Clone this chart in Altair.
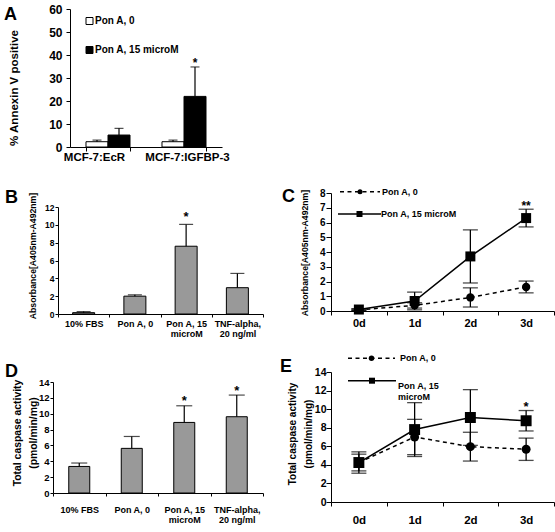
import altair as alt
import pandas as pd

FONT = "Liberation Sans"
BAR_GRAY = "#999999"

# ---------------- data ----------------
a_categories = ["MCF-7:EcR", "MCF-7:IGFBP-3"]
a_series = ["Pon A, 0", "Pon A, 15 microM"]
a_mean_pon0 = [2.3, 2.3]
a_err_pon0 = [0.7, 0.7]
a_mean_pon15 = [5.2, 22.0]
a_err_pon15 = [2.9, 12.8]
a_star_pon15 = ["", "*"]
a_ytitle = "% Annexin V positive"

bd_categories = ["10% FBS", "Pon A, 0", "Pon A, 15 microM", "TNF-alpha, 20 ng/ml"]
bd_label_lines = {"Pon A, 15 microM": ["Pon A, 15", "microM"],
                  "TNF-alpha, 20 ng/ml": ["TNF-alpha,", "20 ng/ml"]}
b_mean = [0.15, 2.0, 7.6, 2.95]
b_err = [0.12, 0.15, 2.45, 1.6]
b_star = ["", "", "*", ""]
bc_ytitle = "Absorbance[A405nm-A492nm]"

days = ["0d", "1d", "2d", "3d"]
line_series = ["Pon A, 0", "Pon A, 15 microM"]
c_mean_pon0 = [0.08, 0.38, 0.92, 1.63]
c_err_pon0 = [0.04, 0.18, 0.65, 0.4]
c_mean_pon15 = [0.1, 0.68, 3.7, 6.3]
c_err_pon15 = [0.06, 0.6, 1.8, 0.6]
c_star_pon15 = ["", "", "", "**"]

d_mean = [3.35, 5.63, 8.9, 9.62]
d_err = [0.43, 1.5, 2.1, 2.73]
d_star = ["", "", "*", "*"]
de_ytitle = ["Total caspase activity", "(pmol/min/mg)"]

e_mean_pon0 = [4.25, 7.0, 5.96, 5.68]
e_err_pon0 = [0.9, 1.9, 1.55, 1.2]
e_mean_pon15 = [4.25, 7.8, 9.1, 8.75]
e_err_pon15 = [1.15, 2.9, 3.0, 1.1]
e_star_pon15 = ["", "", "", "*"]

panel_letters = ["A", "B", "C", "D", "E"]


# ---------------- helpers ----------------
def txt(text, x, y, size, angle=None, align="left", baseline="alphabetic",
        line_height=None, weight="bold"):
    lines = text if isinstance(text, list) else [text]
    df = pd.DataFrame({"t": ["\n".join(lines)]})
    kw = dict(font=FONT, fontSize=size, fontWeight=weight, color="black",
              align=align, baseline=baseline)
    if len(lines) > 1:
        kw["lineBreak"] = "\n"
        kw["lineHeight"] = line_height
    if angle is not None:
        kw["angle"] = angle
    return alt.Chart(df).mark_text(**kw).encode(
        x=alt.value(x), y=alt.value(y), text="t:N")


def legend_entry(label, x1, x2, y, dash, shape, msize, tx, size, line_height=None):
    lines = label.split("\n")
    d = pd.DataFrame({"t": [label]})
    rk = dict(color="black", strokeWidth=1.5)
    if dash:
        rk["strokeDash"] = dash
    ln = alt.Chart(d).mark_rule(**rk).encode(
        x=alt.value(x1), x2=alt.value(x2), y=alt.value(y))
    pt = alt.Chart(d).mark_point(shape=shape, filled=True, color="black",
                                 size=msize, opacity=1).encode(
        x=alt.value((x1 + x2) / 2), y=alt.value(y))
    kw = dict(font=FONT, fontSize=size, fontWeight="bold", color="black",
              align="left", baseline="middle")
    ty = y
    if len(lines) > 1:
        kw["lineBreak"] = "\n"
        kw["lineHeight"] = line_height
        ty = y + line_height * (len(lines) - 1) / 2
    tt = alt.Chart(d).mark_text(**kw).encode(
        x=alt.value(tx), y=alt.value(ty), text="t:N")
    return [ln, pt, tt]


def multiline_expr(mapping):
    expr = "datum.label"
    for k, v in mapping.items():
        arr = "[" + ", ".join("'" + s + "'" for s in v) + "]"
        expr = f"datum.label == '{k}' ? {arr} : ({expr})"
    return expr


def y_axis(values, tick, pad, size, offset=0):
    return alt.Axis(values=values, tickCount=len(values), tickSize=tick, labelPadding=pad,
                    labelFontSize=size, offset=offset, labelOverlap=False,
                    labelBound=False, labelFlush=False)


def yq(field):
    return alt.Y(field, title=None)


# ---------------- panel A ----------------
dfA = pd.DataFrame({
    "cat": a_categories * 2,
    "series": [a_series[0]] * 2 + [a_series[1]] * 2,
    "mean": a_mean_pon0 + a_mean_pon15,
    "err": a_err_pon0 + a_err_pon15,
    "star": [""] * 2 + a_star_pon15,
})
dfA["upper"] = dfA["mean"] + dfA["err"]

xA = alt.X("cat:N", sort=a_categories, title=None,
           scale=alt.Scale(range=[17, 169], paddingInner=0.421, paddingOuter=0.2105),
           axis=alt.Axis(labelAngle=0, tickBand="extent", tickSize=4, labelPadding=0,
                         labelFontSize=11.5, labelOverlap=False,
                         labelOffset={"condition": {"test": f"datum.value == '{a_categories[0]}'",
                                                    "value": -14}, "value": 3}))
xoA = alt.XOffset("series:N", sort=a_series, scale=alt.Scale(paddingInner=0, paddingOuter=0))
yA = alt.Y("mean:Q", title=None, scale=alt.Scale(domain=[0, 60], nice=False),
           axis=y_axis(list(range(0, 61, 10)), 4, 4, 12, offset=-17))
baseA = alt.Chart(dfA)
barsA = baseA.mark_bar(stroke="black", strokeWidth=1).encode(
    x=xA, xOffset=xoA, y=yA,
    fill=alt.Fill("series:N", sort=a_series,
                  scale=alt.Scale(domain=a_series, range=["white", "black"]), legend=None))
ruleA = baseA.mark_rule(color="black", strokeWidth=1.2).encode(
    x=xA, xOffset=xoA, y=yq("mean:Q"), y2="upper:Q")
capA = baseA.mark_tick(color="black", size=9, thickness=1.2).encode(
    x=xA, xOffset=xoA, y=yq("upper:Q"))
starA = baseA.mark_text(font=FONT, fontSize=12, fontWeight="bold", color="black",
                        baseline="alphabetic", dy=0).encode(
    x=xA, xOffset=xoA, y=yq("upper:Q"), text="star:N")
anchor = alt.Chart(pd.DataFrame({"t": [0]})).mark_rule(strokeWidth=0, opacity=0).encode(
    x=alt.value(-53), y=alt.value(-9), y2=alt.value(-8))
legA = []
for i, s in enumerate(a_series):
    d = pd.DataFrame({"t": [s]})
    legA.append(alt.Chart(d).mark_square(size=49, fill=["white", "black"][i], stroke="black",
                                         strokeWidth=1, opacity=1).encode(
        x=alt.value(36.5), y=alt.value(12 + 29 * i)))
    legA.append(alt.Chart(d).mark_text(font=FONT, fontSize=10, fontWeight="bold", color="black",
                                       align="left", baseline="middle").encode(
        x=alt.value(42), y=alt.value(12 + 29 * i), text="t:N"))
panelA = alt.layer(
    barsA, ruleA, capA, starA, *legA,
    txt(panel_letters[0], -49, 11, 18),
    txt(a_ytitle, -38, 79, 11.5, angle=270, align="center", baseline="middle"),
    anchor,
).properties(width=210, height=138)


# ---------------- bar panels B, D ----------------
def bar_panel(means, errs, stars, *, x_range, y_range, y_max, y_step,
              y_off, x_off, ylab_size, ylab_pad, ytick, xlab_size, xlab_pad, xtick,
              x_line_h, bar_size, cap, star_size, star_dy):
    df = pd.DataFrame({"cat": bd_categories, "mean": means, "err": errs, "star": stars})
    df["upper"] = df["mean"] + df["err"]
    x = alt.X("cat:N", sort=bd_categories, title=None,
              scale=alt.Scale(range=x_range, paddingInner=0, paddingOuter=0),
              axis=alt.Axis(labelAngle=0, tickBand="extent", tickSize=xtick,
                            labelPadding=xlab_pad, labelFontSize=xlab_size,
                            labelExpr=multiline_expr(bd_label_lines), labelOverlap=False,
                            labelLineHeight=x_line_h, offset=x_off))
    y = alt.Y("mean:Q", title=None,
              scale=alt.Scale(domain=[0, y_max], range=y_range, nice=False),
              axis=y_axis(list(range(0, y_max + 1, y_step)), ytick, ylab_pad, ylab_size, y_off))
    base = alt.Chart(df)
    bars = base.mark_bar(size=bar_size, fill=BAR_GRAY, stroke="black", strokeWidth=1).encode(x=x, y=y)
    rule = base.mark_rule(color="black", strokeWidth=1.2).encode(
        x=x, y=yq("mean:Q"), y2="upper:Q")
    capm = base.mark_tick(color="black", size=cap, thickness=1.2).encode(
        x=x, y=yq("upper:Q"))
    star = base.mark_text(font=FONT, fontSize=star_size, fontWeight="bold", color="black",
                          baseline="alphabetic", dy=star_dy).encode(
        x=x, y=yq("upper:Q"), text="star:N")
    return [bars, rule, capm, star]


panelB = alt.layer(
    *bar_panel(b_mean, b_err, b_star, x_range=[5, 210],
               y_range=[121, 14], y_max=12, y_step=2, y_off=-5, x_off=-12,
               ylab_size=8.5, ylab_pad=1, ytick=3, xlab_size=9, xlab_pad=2, xtick=3,
               x_line_h=10, bar_size=22, cap=14, star_size=13, star_dy=-3.5),
    txt(panel_letters[1], -48, 10, 18),
    txt(bc_ytitle, -19.7, 63, 8.7, angle=270, align="center", baseline="middle"),
).properties(width=210, height=133)

panelD = alt.layer(
    *bar_panel(d_mean, d_err, d_star, x_range=[0, 210],
               y_range=[121, 10], y_max=14, y_step=2, y_off=0, x_off=-9,
               ylab_size=9.5, ylab_pad=1, ytick=3, xlab_size=9, xlab_pad=9, xtick=3,
               x_line_h=10.5, bar_size=21, cap=16, star_size=13, star_dy=-0.5),
    txt(panel_letters[3], -48, 4.7, 18),
    txt(de_ytitle, -35, 61, 10.4, angle=270, align="center", baseline="middle",
        line_height=16.2),
).properties(width=210, height=130)


# ---------------- line panels C, E ----------------
def line_panel(mean0, err0, mean15, err15, stars, *, y_max, y_step, y_range,
               x_off, ylab_size, ytick, ylab_pad, xlab_size, xtick, xlab_pad,
               m0size, m15size, cap, star_size, star_dy):
    rows = []
    for s, ms, es in [(line_series[0], mean0, err0), (line_series[1], mean15, err15)]:
        for i, d in enumerate(days):
            rows.append(dict(series=s, day=d, mean=ms[i], lo=ms[i] - es[i], hi=ms[i] + es[i],
                             star=stars[i] if s == line_series[1] else ""))
    df = pd.DataFrame(rows)
    x = alt.X("day:N", sort=days, title=None,
              scale=alt.Scale(paddingInner=0, paddingOuter=0),
              axis=alt.Axis(labelAngle=0, tickBand="extent", tickSize=xtick,
                            labelPadding=xlab_pad, labelFontSize=xlab_size, offset=x_off,
                            labelOverlap=False))
    skw = dict(domain=[0, y_max], nice=False)
    if y_range is not None:
        skw["range"] = y_range
    y = alt.Y("mean:Q", title=None, scale=alt.Scale(**skw),
              axis=y_axis(list(range(0, y_max + 1, y_step)), ytick, ylab_pad, ylab_size))
    base = alt.Chart(df)
    s0 = base.transform_filter(alt.datum.series == line_series[0])
    s15 = base.transform_filter(alt.datum.series == line_series[1])
    l0 = s0.mark_line(color="black", strokeWidth=1.5, strokeDash=[4, 3.5]).encode(x=x, y=y)
    l15 = s15.mark_line(color="black", strokeWidth=1.5).encode(x=x, y=yq("mean:Q"))
    er = base.mark_rule(color="black", strokeWidth=1.3).encode(
        x=x, y=yq("lo:Q"), y2="hi:Q")
    clo = base.mark_tick(color="black", size=cap, thickness=1.3).encode(
        x=x, y=yq("lo:Q"))
    chi = base.mark_tick(color="black", size=cap, thickness=1.3).encode(
        x=x, y=yq("hi:Q"))
    p0 = s0.mark_point(shape="circle", filled=True, color="black", opacity=1, size=m0size).encode(
        x=x, y=yq("mean:Q"))
    p15 = s15.mark_point(shape="square", filled=True, color="black", opacity=1, size=m15size).encode(
        x=x, y=yq("mean:Q"))
    star = s15.mark_text(font=FONT, fontSize=star_size, fontWeight="bold", color="black",
                         baseline="alphabetic", dy=star_dy).encode(
        x=x, y=yq("hi:Q"), text="star:N")
    return [l0, l15, er, clo, chi, p0, p15, star]


panelC = alt.layer(
    *line_panel(c_mean_pon0, c_err_pon0, c_mean_pon15, c_err_pon15, c_star_pon15,
                y_max=8, y_step=1, y_range=[118, 0], x_off=-15,
                ylab_size=10, ytick=5, ylab_pad=1, xlab_size=11, xtick=4, xlab_pad=2,
                m0size=70, m15size=100, cap=15, star_size=12, star_dy=1),
    *legend_entry(line_series[0], 9, 49, -1.3, [4, 3.5], "circle", 25, 51, 9),
    *legend_entry(line_series[1], 7, 50, 21, None, "square", 36, 50, 9),
    txt(panel_letters[2], -49, 8.7, 18),
    txt(bc_ytitle, -26, 60, 8.7, angle=270, align="center", baseline="middle"),
).properties(width=223, height=133)

panelE = alt.layer(
    *line_panel(e_mean_pon0, e_err_pon0, e_mean_pon15, e_err_pon15, e_star_pon15,
                y_max=14, y_step=2, y_range=None, x_off=0,
                ylab_size=10.5, ytick=5, ylab_pad=0, xlab_size=11.5, xtick=4, xlab_pad=8,
                m0size=80, m15size=120, cap=15, star_size=13, star_dy=0),
    *legend_entry(line_series[0], 17, 64, -13.7, [4, 3.5], "circle", 30, 69, 9),
    *legend_entry(line_series[1].replace(" microM", "\nmicroM"), 17, 65, 8.7, None,
                  "square", 36, 67, 9, line_height=11),
    txt(panel_letters[4], -51, -0.3, 18),
    txt(de_ytitle, -38.5, 62, 10, angle=270, align="center", baseline="middle",
        line_height=16.2),
).properties(width=223, height=130)

blank = alt.Chart(pd.DataFrame({"t": [0]})).mark_point(opacity=0).encode(
    x=alt.value(0), y=alt.value(0)).properties(width=1, height=1)

chart = alt.concat(
    panelA, blank, panelB, panelC, panelD, panelE,
    columns=2, spacing={"row": 46, "column": 68}, bounds="flush", align="each",
).properties(padding=0).configure_view(stroke=None).configure_axis(
    grid=False, domainColor="black", tickColor="black", labelColor="black",
    labelFont=FONT, labelFontWeight="bold", domainWidth=1, tickWidth=1,
)

chart.save("out.html", embed_options={"renderer": "svg", "actions": False})
